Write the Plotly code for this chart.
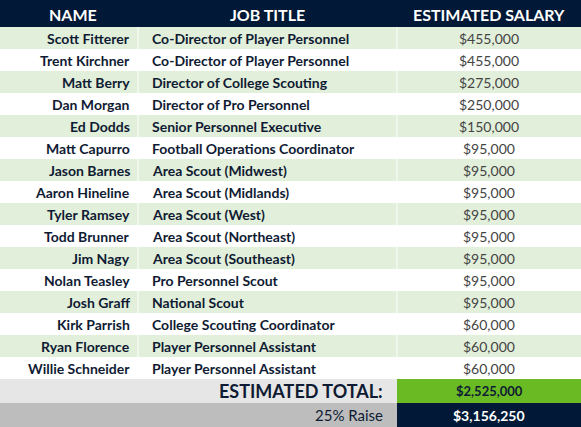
import plotly.graph_objects as go

names = ["Scott Fitterer", "Trent Kirchner", "Matt Berry", "Dan Morgan", "Ed Dodds",
         "Matt Capurro", "Jason Barnes", "Aaron Hineline", "Tyler Ramsey", "Todd Brunner",
         "Jim Nagy", "Nolan Teasley", "Josh Graff", "Kirk Parrish", "Ryan Florence",
         "Willie Schneider"]
titles = ["Co-Director of Player Personnel", "Co-Director of Player Personnel",
          "Director of College Scouting", "Director of Pro Personnel",
          "Senior Personnel Executive", "Football Operations Coordinator",
          "Area Scout (Midwest)", "Area Scout (Midlands)", "Area Scout (West)",
          "Area Scout (Northeast)", "Area Scout (Southeast)", "Pro Personnel Scout",
          "National Scout", "College Scouting Coordinator", "Player Personnel Assistant",
          "Player Personnel Assistant"]
salaries = [455000, 455000, 275000, 250000, 150000, 95000, 95000, 95000, 95000, 95000,
            95000, 95000, 95000, 60000, 60000, 60000]
headers = ["NAME", "JOB TITLE", "ESTIMATED SALARY"]
total_label = "ESTIMATED TOTAL:"
total_value = "$2,525,000"
raise_label = "25% Raise"
raise_value = "$3,156,250"

W, H = 581, 427
NAVY = "#011936"
GREEN = "#e2efda"
TXT = "#0f1b33"
FONT = "Lato"
col_x = [0, 138, 397, 581]
head_h, row_h = 27, 22

shapes, ann = [], []

def rect(x0, y0, x1, y1, color):
    shapes.append(dict(type="rect", x0=x0, x1=x1, y0=y0, y1=y1, fillcolor=color,
                       line=dict(width=0), layer="below"))

def text(x, y, s, anchor, size=13, color=TXT, bold=True):
    ann.append(dict(x=x, y=y, text=f"<b>{s}</b>" if bold else s, showarrow=False,
                    xanchor=anchor, yanchor="middle",
                    font=dict(family=FONT, size=size, color=color)))

rect(0, 0, W, head_h, NAVY)
for i, h in enumerate(headers):
    text((col_x[i] + col_x[i + 1]) / 2 + (4 if i == 0 else 0), head_h / 2 + 1, h, "center",
         size=16, color="white")

for r, (n, t, s) in enumerate(zip(names, titles, salaries)):
    y0 = head_h + r * row_h
    rect(0, y0, W, y0 + row_h, GREEN if r % 2 == 0 else "white")
    yc = y0 + row_h / 2
    text(col_x[1] - 6, yc, n, "right", size=14)
    text(col_x[1] + 12, yc, t, "left", size=14)
    text((col_x[2] + col_x[3]) / 2, yc, f"${s:,}", "center", size=14, color="#444", bold=False)

for x in col_x[1:3]:
    shapes.append(dict(type="line", x0=x, x1=x, y0=head_h, y1=head_h + len(names) * row_h,
                       line=dict(color="white", width=1)))

yt = head_h + len(names) * row_h
rect(0, yt, col_x[2], yt + 24, "#e6e6e6")
rect(col_x[2], yt, W, yt + 24, "#6aba24")
text(col_x[2] - 12, yt + 12, total_label, "right", size=18)
text((col_x[2] + col_x[3]) / 2, yt + 12, total_value, "center", size=13)
yr = yt + 24
rect(0, yr, col_x[2], H, "#bdbdbd")
rect(col_x[2], yr, W, H, NAVY)
text(col_x[2] - 12, yr + 12, raise_label, "right", size=15, bold=False)
text((col_x[2] + col_x[3]) / 2, yr + 12, raise_value, "center", size=14, color="white")

fig = go.Figure()
fig.update_layout(
    width=W, height=H, margin=dict(l=0, r=0, t=0, b=0),
    paper_bgcolor="white", plot_bgcolor="white",
    xaxis=dict(range=[0, W], visible=False, fixedrange=True),
    yaxis=dict(range=[H, 0], visible=False, fixedrange=True),
    shapes=shapes, annotations=ann, showlegend=False,
)
fig.write_html("out.html", config={"displayModeBar": False},
               post_script="document.body.style.margin='0';document.body.style.overflow='hidden';")
